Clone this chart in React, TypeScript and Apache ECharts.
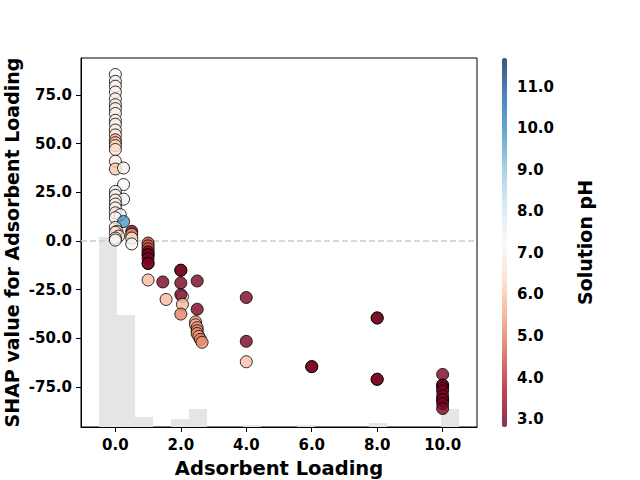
import React, { useEffect, useRef } from "react";
import * as echarts from "echarts";

// Scatter data: adsorbent loading, SHAP value, solution pH
const loadings = [
  0, 0, 0, 0, 0, 0, 0, 0, 0, 0, 0, 0, 0, 0, 0, 0, 0, 0, 0.25, 0.25,
  0, 0, 0.25, 0, 0, 0, 0, 0.15, 0, 0.25, 0, 0.05, 0, 0.1, 0, 0,
  0.5, 0.5, 0.5, 0.5,
  1, 1, 1, 1, 1, 1, 1, 1, 1, 1, 1.45, 1.55,
  2, 2, 2, 2.05, 2, 2.05, 2, 2.5, 2.5,
  2.45, 2.45, 2.5, 2.5, 2.5, 2.55, 2.6, 2.65,
  4, 4, 4, 6, 6, 8, 8, 8, 8,
  10, 10, 10, 10, 10, 10, 10, 10, 10, 10,
];
const shapValues = [
  85.5, 82, 79.5, 76.5, 73, 70, 68, 65.5, 62, 60, 57, 54.5, 52, 50.5, 49, 47, 41, 37, 37.5, 29,
  25.5, 23.5, 21.5, 21, 19, 17, 14.5, 13.5, 12, 10, 7, 5, 4.5, 2.5, 1.5, 0.5,
  5, 3.5, 1.5, -1.5,
  -1, -2.5, -4, -5.5, -7, -7, -9, -11.5, -11.5, -20, -21, -30,
  -15, -15, -21.5, -28.5, -27.5, -32.5, -37.5, -20.5, -35,
  -41.5, -43, -44.5, -46, -47.5, -49, -50.5, -52,
  -29, -51.5, -62, -64.5, -64.5, -39.5, -39.5, -71, -71,
  -68.5, -74, -74, -75.5, -77, -79.5, -81.5, -81.5, -83.5, -86,
];
const phValues = [
  7.3, 7.1, 7.0, 7.2, 7.0, 6.8, 7.0, 7.2, 7.0, 6.9, 7.1, 6.8, 5.6, 6.0, 6.3, 6.5, 7.0, 6.0, 7.1, 7.3,
  7.0, 6.8, 7.1, 7.2, 6.9, 7.0, 6.7, 7.3, 7.1, 9.8, 6.8, 6.4, 6.5, 6.3, 7.0, 7.2,
  3.0, 5.2, 6.6, 7.2,
  4.2, 4.6, 4.4, 3.0, 3.0, 3.0, 3.0, 3.0, 3.0, 5.8, 3.0, 5.8,
  3.0, 3.0, 3.0, 6.8, 3.0, 5.8, 5.0, 3.0, 3.0,
  5.3, 5.6, 5.4, 5.0, 5.2, 5.4, 5.0, 5.2,
  3.0, 3.0, 5.9, 3.0, 3.0, 3.0, 3.0, 3.0, 3.0,
  3.0, 3.0, 3.0, 3.0, 3.0, 3.0, 3.0, 3.0, 3.0, 3.0,
];

// Background histogram of the feature
const binEdges = [
  -0.5, 0.05, 0.6, 1.15, 1.7, 2.25, 2.8, 3.35, 3.9, 4.45, 5.0, 5.55, 6.1, 6.65, 7.2, 7.75,
  8.3, 8.85, 9.4, 9.95, 10.5,
];
const histCounts = [95, 56, 5, 0, 4, 9, 0, 0, 1, 0, 0, 1, 0, 0, 0, 2, 0, 0, 0, 9];

const xTicks = [0, 2, 4, 6, 8, 10];
const yTicks = [-75, -50, -25, 0, 25, 50, 75];
const phTicks = [3, 4, 5, 6, 7, 8, 9, 10, 11];

const rdbu = [
  "#67001f", "#b2182b", "#d6604d", "#f4a582", "#fddbc7", "#f7f7f7",
  "#d1e5f0", "#92c5de", "#4393c3", "#2166ac", "#053061",
];
const rdbuFaded = [
  "#85334c", "#c14655", "#de8071", "#f6b79b", "#fde2d2", "#f9f9f9",
  "#daeaf3", "#a8d1e5", "#69a9cf", "#4d85bd", "#375981",
];

const FONT = "DejaVu Sans";

export default function App() {
  const ref = useRef<HTMLDivElement>(null);
  useEffect(() => {
    if (!ref.current) return;
    const chart = echarts.init(ref.current, undefined, { renderer: "svg" });
    const scatterData = loadings.map((x, i) => [x, shapValues[i], phValues[i]]);
    const histData = histCounts.map((c, i) => [binEdges[i], binEdges[i + 1], c]);
    const tickLabel = {
      color: "#000",
      fontFamily: FONT,
      fontWeight: "bold" as const,
      fontSize: 15,
    };
    const nameStyle = {
      color: "#000",
      fontFamily: FONT,
      fontWeight: "bold" as const,
      fontSize: 19,
    };
    chart.setOption({
      animation: false,
      backgroundColor: "#fff",
      grid: [
        {
          left: 81, top: 58, width: 396, height: 369, outerBoundsMode: "none",
          containLabel: false,
          show: true, borderColor: "#000", borderWidth: 1,
        },
        {
          left: 502, top: 58, width: 5, height: 369, show: false,
          outerBoundsMode: "none", containLabel: false,
        },
      ],
      xAxis: [
        {
          type: "value", gridIndex: 0, min: -1.05, max: 11.05,
          name: "Adsorbent Loading", nameLocation: "middle", nameGap: 31,
          nameMoveOverlap: false,
          nameTextStyle: { ...nameStyle, fontSize: 19.5 },
          splitLine: { show: false },
          axisLine: { show: true, onZero: false, lineStyle: { color: "#000", width: 1 } },
          axisTick: { show: true, length: 5, customValues: xTicks, lineStyle: { color: "#000" } },
          axisLabel: {
            ...tickLabel, margin: 10, customValues: xTicks,
            formatter: (v: number) => v.toFixed(1),
          },
        },
        { type: "value", gridIndex: 1, show: false, min: 0, max: 1 },
      ],
      yAxis: [
        {
          type: "value", gridIndex: 0, min: -95.5, max: 94,
          name: "SHAP value for Adsorbent Loading", nameLocation: "middle", nameGap: 60,
          nameMoveOverlap: false,
          nameTextStyle: nameStyle,
          splitLine: { show: false },
          axisLine: { show: true, onZero: false, lineStyle: { color: "#000", width: 1 } },
          axisTick: { show: true, length: 5, customValues: yTicks, lineStyle: { color: "#000" } },
          axisLabel: {
            ...tickLabel, margin: 9, customValues: yTicks,
            formatter: (v: number) => v.toFixed(1),
          },
        },
        { type: "value", gridIndex: 0, show: false, min: 0, max: 184.5 },
        {
          type: "value", gridIndex: 1, position: "right", min: 2.81, max: 11.69,
          name: "Solution pH", nameLocation: "middle", nameGap: 68, nameRotate: 90,
          nameMoveOverlap: false,
          nameTextStyle: nameStyle,
          splitLine: { show: false },
          axisLine: { show: false },
          axisTick: { show: true, length: 5, customValues: phTicks, lineStyle: { color: "#000" } },
          axisLabel: {
            ...tickLabel, margin: 10, customValues: phTicks,
            formatter: (v: number) => v.toFixed(1),
          },
        },
      ],
      visualMap: [
        {
          type: "continuous", show: false, seriesIndex: 1, dimension: 2,
          min: 2.81, max: 11.69, inRange: { color: rdbu },
        },
        {
          type: "continuous", show: true, seriesIndex: 2, dimension: 1,
          min: 2.81, max: 11.69, inRange: { color: rdbuFaded },
          itemWidth: 5, itemHeight: 369, left: 502, top: 58, padding: 0,
          calculable: false, hoverLink: false, orient: "vertical",
        },
      ],
      series: [
        {
          type: "custom", xAxisIndex: 0, yAxisIndex: 1, silent: true, z: 1,
          data: histData,
          encode: { x: [0, 1], y: 2 },
          renderItem: (params: any, api: any) => {
            const p0 = api.coord([api.value(0), api.value(2)]);
            const p1 = api.coord([api.value(1), 0]);
            return {
              type: "rect",
              shape: { x: p0[0], y: p0[1], width: p1[0] - p0[0], height: p1[1] - p0[1] },
              style: { fill: "#e5e5e5" },
            };
          },
        },
        {
          type: "scatter", xAxisIndex: 0, yAxisIndex: 0, z: 3,
          symbolSize: 12,
          data: scatterData,
          itemStyle: { opacity: 0.8, borderColor: "#000", borderWidth: 1 },
          markLine: {
            silent: true, symbol: "none", label: { show: false },
            lineStyle: { color: "#cccccc", type: [6, 3], width: 1.5 },
            data: [{ yAxis: 0 }],
            z: 2,
          },
        },
        {
          type: "scatter", xAxisIndex: 1, yAxisIndex: 2, data: [], silent: true,
        },
      ],
    });
    return () => chart.dispose();
  }, []);
  return <div ref={ref} style={{ width: 640, height: 480, position: "absolute", left: 0, top: 0 }} />;
}
